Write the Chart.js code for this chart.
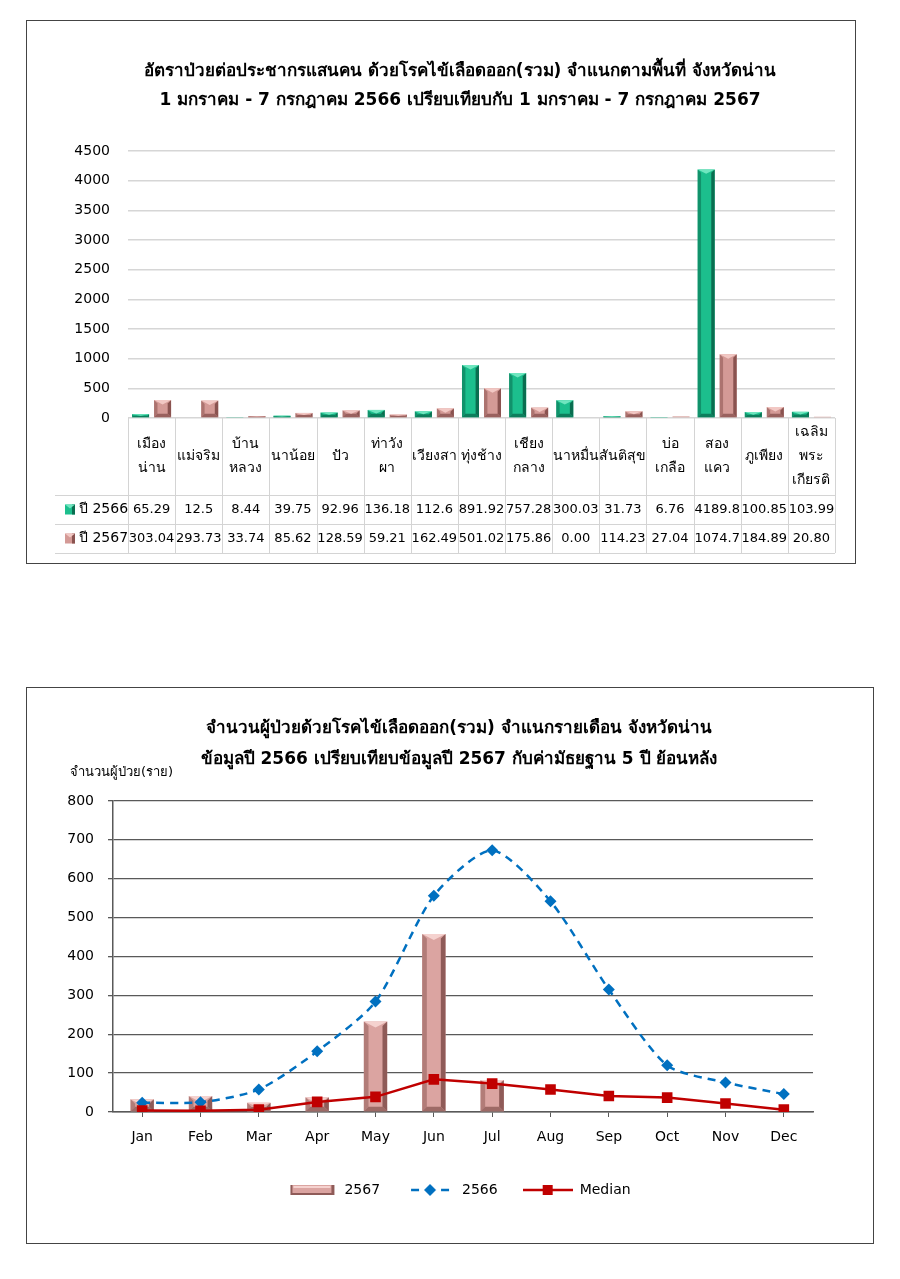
<!DOCTYPE html>
<html>
<head>
<meta charset="utf-8">
<script src="https://cdn.jsdelivr.net/npm/chart.js@4.4.1/dist/chart.umd.min.js"></script>
<style>
  body { margin: 0; background: #fff; }
  .frame { position: absolute; border: 1.5px solid #444; }
  canvas { position: absolute; left: 0; }
</style>
</head>
<body>
<div class="frame" style="left:26px;top:20px;width:828px;height:542px"></div>
<canvas id="rateChart" width="900" height="600" style="top:0"></canvas>
<div class="frame" style="left:26px;top:687px;width:846px;height:555px"></div>
<canvas id="monthChart" width="900" height="570" style="top:680px"></canvas>
<script>
// top chart: rate per 100,000 by district
let districts = [['เมือง', 'น่าน'], ['แม่จริม'], ['บ้าน', 'หลวง'], ['นาน้อย'], ['ปัว'], ['ท่าวัง', 'ผา'], ['เวียงสา'],
  ['ทุ่งช้าง'], ['เชียง', 'กลาง'], ['นาหมื่น'], ['สันติสุข'], ['บ่อ', 'เกลือ'], ['สอง', 'แคว'], ['ภูเพียง'], ['เฉลิม', 'พระ', 'เกียรติ']];
let rate2566 = ['65.29', '12.5', '8.44', '39.75', '92.96', '136.18', '112.6', '891.92', '757.28', '300.03', '31.73', '6.76', '4189.8', '100.85', '103.99'];
let rate2567 = ['303.04', '293.73', '33.74', '85.62', '128.59', '59.21', '162.49', '501.02', '175.86', '0.00', '114.23', '27.04', '1074.7', '184.89', '20.80'];

// bottom chart: cases per month
let months = ['Jan', 'Feb', 'Mar', 'Apr', 'May', 'Jun', 'Jul', 'Aug', 'Sep', 'Oct', 'Nov', 'Dec'];
let cases2567 = [33, 41, 24, 38, 233, 458, 82, null, null, null, null, null];
let cases2566 = [24, 25, 58, 156, 284, 556, 673, 542, 315, 120, 76, 46];
let median5y = [4, 3, 6, 26, 39, 84, 73, 58, 41, 37, 22, 6];

Chart.defaults.font.family = "Tahoma, 'DejaVu Sans', sans-serif";
Chart.defaults.color = '#000';

let GREEN = { face: '#1cbf8d', light: '#6fe6bf', dark: '#0a6e50' };
let PINK = { face: '#d49a96', light: '#f2c8c4', dark: '#8a5350' };
let PINK2 = { face: '#dba4a1', light: '#f5d2cf', dark: '#8f5b58' };

// give bars a bevelled look, drawn over the bars the library placed
let bevelBars = {
  id: 'bevelBars',
  afterDatasetDraw(chart, args) {
    let meta = args.meta;
    if (meta.type !== 'bar') return;
    let shade = chart.data.datasets[args.index].bevel;
    let ctx = chart.ctx;
    ctx.save();
    for (let el of meta.data) {
      let p = el.getProps(['x', 'y', 'base', 'width'], true);
      let h = p.base - p.y;
      if (!(h > 1)) continue;
      let l = p.x - p.width / 2, r = p.x + p.width / 2;
      let e = Math.min(p.width * 0.2, h / 2);
      let poly = (pts, color, alpha) => {
        ctx.globalAlpha = alpha;
        ctx.fillStyle = color;
        ctx.beginPath();
        ctx.moveTo(pts[0][0], pts[0][1]);
        for (let q of pts.slice(1)) ctx.lineTo(q[0], q[1]);
        ctx.closePath();
        ctx.fill();
      };
      poly([[r - e, p.y + e], [r, p.y], [r, p.base], [r - e, p.base - e]], shade.dark, 1);
      poly([[l, p.y], [l + e, p.y + e], [l + e, p.base - e], [l, p.base]], shade.dark, 0.55);
      poly([[l, p.base], [r, p.base], [r - e, p.base - e], [l + e, p.base - e]], shade.dark, 0.8);
      poly([[l, p.y], [r, p.y], [p.x, p.y + Math.min(e * 1.3, h / 2)]], shade.light, 1);
    }
    ctx.restore();
  }
};

// data table under the district chart
let dataTable = {
  id: 'dataTable',
  afterDraw(chart) {
    let ctx = chart.ctx, area = chart.chartArea;
    let n = chart.data.labels.length, w = (area.right - area.left) / n;
    let rows = [area.bottom, area.bottom + 77, area.bottom + 106, area.bottom + 135];
    ctx.save();
    ctx.strokeStyle = '#d4d4d4';
    ctx.lineWidth = 1;
    ctx.beginPath();
    for (let i = 0; i <= n; i++) {
      let x = Math.round(area.left + i * w) + 0.5;
      ctx.moveTo(x, rows[0]);
      ctx.lineTo(x, rows[3]);
    }
    for (let k = 1; k < 4; k++) {
      ctx.moveTo(55, Math.round(rows[k]) + 0.5);
      ctx.lineTo(area.right, Math.round(rows[k]) + 0.5);
    }
    ctx.stroke();

    ctx.fillStyle = '#000';
    ctx.textAlign = 'center';
    ctx.textBaseline = 'middle';
    ctx.font = "14px Tahoma, 'DejaVu Sans', sans-serif";
    chart.data.labels.forEach((lines, i) => {
      let cx = area.left + (i + 0.5) * w;
      let cy = (rows[0] + rows[1]) / 2 - (lines.length - 1) * 12;
      lines.forEach((t, j) => ctx.fillText(t, cx, cy + j * 24));
    });

    chart.data.datasets.forEach((ds, k) => {
      let cy = (rows[k + 1] + rows[k + 2]) / 2;
      ctx.font = "13px 'DejaVu Sans', sans-serif";
      ctx.textAlign = 'center';
      ds.text.forEach((t, i) => ctx.fillText(t, area.left + (i + 0.5) * w, cy));
      // legend key
      ctx.fillStyle = ds.bevel.face;
      ctx.fillRect(65, cy - 5, 10, 10);
      ctx.fillStyle = ds.bevel.dark;
      ctx.fillRect(72, cy - 5, 3, 10);
      ctx.fillStyle = ds.bevel.light;
      ctx.beginPath();
      ctx.moveTo(65, cy - 5); ctx.lineTo(75, cy - 5); ctx.lineTo(70, cy - 1); ctx.closePath();
      ctx.fill();
      ctx.fillStyle = '#000';
      ctx.textAlign = 'left';
      ctx.font = "14px Tahoma, 'DejaVu Sans', sans-serif";
      ctx.fillText(ds.label, 79, cy);
    });
    ctx.restore();
  }
};

new Chart(document.getElementById('rateChart'), {
  type: 'bar',
  data: {
    labels: districts,
    datasets: [
      { label: 'ปี 2566', data: rate2566.map(Number), text: rate2566, bevel: GREEN, backgroundColor: GREEN.face },
      { label: 'ปี 2567', data: rate2567.map(Number), text: rate2567, bevel: PINK, backgroundColor: PINK.face }
    ]
  },
  plugins: [bevelBars, dataTable],
  options: {
    responsive: false,
    animation: false,
    devicePixelRatio: 1,
    layout: { padding: { left: 20, right: 0, top: 0, bottom: 48 } },
    datasets: { bar: { categoryPercentage: 0.934, barPercentage: 0.773 } },
    plugins: {
      legend: { display: false },
      tooltip: { enabled: false },
      title: {
        display: true,
        text: ['อัตราป่วยต่อประชากรแสนคน ด้วยโรคไข้เลือดออก(รวม) จำแนกตามพื้นที่ จังหวัดน่าน',
               '1 มกราคม - 7 กรกฎาคม 2566 เปรียบเทียบกับ 1 มกราคม - 7 กรกฎาคม 2567'],
        font: { size: 17, weight: 'bold', lineHeight: 1.7 },
        padding: { top: 57, bottom: 36.2 }
      }
    },
    scales: {
      x: {
        ticks: { display: false },
        grid: { display: false },
        border: { display: false },
        afterFit(s) { s.height = 134; }
      },
      y: {
        min: 0, max: 4500,
        ticks: { stepSize: 500, padding: 18, font: { size: 14, family: "'DejaVu Sans', sans-serif" },
                 callback: v => String(v) },
        grid: { color: '#d6d6d6', lineWidth: 1.5, drawTicks: false },
        border: { display: false },
        afterFit(s) { s.width = 108; }
      },
      spare: {
        position: 'right',
        ticks: { display: false },
        grid: { display: false },
        border: { display: false },
        afterFit(s) { s.width = 65; }
      }
    }
  }
});

// legend icons: line with marker, and bevelled bar
function legendIcon(kind, color) {
  let c = document.createElement('canvas');
  c.width = 50; c.height = 16;
  let g = c.getContext('2d');
  if (kind === 'bar') {
    g.fillStyle = PINK2.face; g.fillRect(3, 3, 44, 10);
    g.fillStyle = PINK2.dark; g.fillRect(3, 11, 44, 2); g.fillRect(44, 3, 3, 10); g.fillRect(3, 3, 2, 10);
    g.fillStyle = PINK2.light; g.fillRect(6, 4, 37, 2);
    return c;
  }
  g.strokeStyle = color; g.fillStyle = color; g.lineWidth = 2.5;
  if (kind === 'dash') g.setLineDash([8, 7]);
  g.beginPath(); g.moveTo(kind === 'dash' ? 6 : 0, 8); g.lineTo(50, 8); g.stroke();
  g.beginPath();
  if (kind === 'dash') { g.moveTo(25, 2); g.lineTo(31, 8); g.lineTo(25, 14); g.lineTo(19, 8); }
  else g.rect(20, 3, 10, 10);
  g.fill();
  return c;
}

let yCaption = {
  id: 'yCaption',
  afterDraw(chart, args, opts) {
    let ctx = chart.ctx;
    ctx.save();
    ctx.font = opts.font;
    ctx.fillStyle = '#000';
    ctx.textBaseline = 'middle';
    ctx.fillText(opts.text, chart.chartArea.left - 43, chart.chartArea.top - 28);
    ctx.restore();
  }
};

new Chart(document.getElementById('monthChart'), {
  type: 'bar',
  data: {
    labels: months,
    datasets: [
      { type: 'bar', label: '2567', data: cases2567, order: 3, bevel: PINK2, backgroundColor: PINK2.face,
        categoryPercentage: 1, barPercentage: 0.4, icon: legendIcon('bar') },
      { type: 'line', label: '2566', data: cases2566, order: 2, borderColor: '#0070c0', backgroundColor: '#0070c0',
        borderWidth: 2.5, borderDash: [8, 6], tension: 0.25, pointStyle: 'rectRot', pointRadius: 6, pointBorderWidth: 0,
        icon: legendIcon('dash', '#0070c0') },
      { type: 'line', label: 'Median', data: median5y, order: 1, borderColor: '#c00000', backgroundColor: '#c00000',
        borderWidth: 2.5, pointStyle: 'rect', pointRadius: 7.5, pointBorderWidth: 0,
        icon: legendIcon('solid', '#c00000') }
    ]
  },
  plugins: [bevelBars, yCaption],
  options: {
    responsive: false,
    animation: false,
    devicePixelRatio: 1,
    layout: { padding: { left: 18, right: 0, top: 0, bottom: 43 } },
    plugins: {
      tooltip: { enabled: false },
      title: {
        display: true,
        text: ['จำนวนผู้ป่วยด้วยโรคไข้เลือดออก(รวม) จำแนกรายเดือน จังหวัดน่าน',
               'ข้อมูลปี 2566 เปรียบเทียบข้อมูลปี 2567 กับค่ามัธยฐาน 5 ปี ย้อนหลัง'],
        font: { size: 17, weight: 'bold', lineHeight: 1.82 },
        padding: { top: 33, bottom: 26.1 }
      },
      yCaption: { text: 'จำนวนผู้ป่วย(ราย)', font: "13px Tahoma, 'DejaVu Sans', sans-serif" },
      legend: {
        position: 'bottom',
        labels: {
          usePointStyle: true,
          pointStyleWidth: 50,
          boxHeight: 14,
          padding: 25,
          font: { size: 14, family: "'DejaVu Sans', sans-serif" },
          generateLabels(chart) {
            return chart.data.datasets.map((ds, i) => ({
              text: ds.label, pointStyle: ds.icon, datasetIndex: i, hidden: false,
              fillStyle: 'transparent', strokeStyle: 'transparent', lineWidth: 0, fontColor: '#000'
            }));
          }
        }
      }
    },
    scales: {
      x: {
        ticks: { padding: 12, font: { size: 14, family: "'DejaVu Sans', sans-serif" } },
        grid: { offset: false, drawOnChartArea: false, tickLength: 5, color: '#595959' },
        border: { color: '#595959', width: 1.5 },
        afterFit(s) { s.height = 46; }
      },
      y: {
        min: 0, max: 800,
        ticks: { stepSize: 100, padding: 14, font: { size: 14, family: "'DejaVu Sans', sans-serif" } },
        grid: { color: '#595959', lineWidth: 1.3, tickLength: 5 },
        border: { color: '#595959', width: 1.5 },
        afterFit(s) { s.width = 95; }
      },
      spare: {
        position: 'right',
        ticks: { display: false },
        grid: { display: false },
        border: { display: false },
        afterFit(s) { s.width = 87; }
      }
    }
  }
});
</script>
</body>
</html>
